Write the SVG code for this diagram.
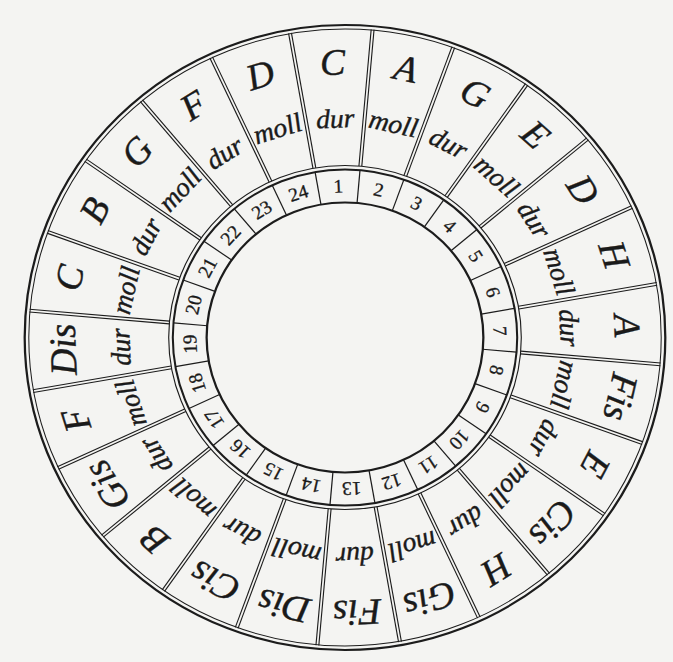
<svg xmlns="http://www.w3.org/2000/svg" xmlns:xlink="http://www.w3.org/1999/xlink" width="673" height="662" viewBox="0 0 673 662">
<style>
.ln{stroke:#1c1c1c;fill:none}
.key{font-family:"Liberation Serif","DejaVu Serif",serif;font-style:italic;font-size:37px;text-anchor:middle;fill:#1a1a1a;stroke:#1a1a1a;stroke-width:0.4}
.word{font-family:"Liberation Serif","DejaVu Serif",serif;font-style:italic;font-size:27px;text-anchor:middle;fill:#1a1a1a;stroke:#1a1a1a;stroke-width:0.4}
.num{font-family:"Liberation Serif","DejaVu Serif",serif;font-size:19px;text-anchor:middle;fill:#1a1a1a;stroke:#1a1a1a;stroke-width:0.3}
</style>
<defs>
<g id="div">
<line class="ln" stroke-width="1.1" x1="-1.4" y1="-172" x2="-1.4" y2="-309"/>
<line class="ln" stroke-width="1.1" x1="1.4" y1="-172" x2="1.4" y2="-309"/>
<line class="ln" stroke-width="1.2" x1="0" y1="-135" x2="0" y2="-168"/>
</g>
</defs>
<rect width="673" height="662" fill="#f4f4f2"/>
<g transform="translate(345,337.5) scale(1.025,1)">
<g id="rings">
<circle class="ln" stroke-width="2.2" r="312.5"/>
<circle class="ln" stroke-width="1" r="308.5"/>
<circle class="ln" stroke-width="1.1" r="172"/>
<circle class="ln" stroke-width="2" r="168"/>
<circle class="ln" stroke-width="2.2" r="135"/>
</g>
<g id="connectors">
<use xlink:href="#div" transform="rotate(-10)"/>
<use xlink:href="#div" transform="rotate(5)"/>
<use xlink:href="#div" transform="rotate(20)"/>
<use xlink:href="#div" transform="rotate(35)"/>
<use xlink:href="#div" transform="rotate(50)"/>
<use xlink:href="#div" transform="rotate(65)"/>
<use xlink:href="#div" transform="rotate(80)"/>
<use xlink:href="#div" transform="rotate(95)"/>
<use xlink:href="#div" transform="rotate(110)"/>
<use xlink:href="#div" transform="rotate(125)"/>
<use xlink:href="#div" transform="rotate(140)"/>
<use xlink:href="#div" transform="rotate(155)"/>
<use xlink:href="#div" transform="rotate(170)"/>
<use xlink:href="#div" transform="rotate(185)"/>
<use xlink:href="#div" transform="rotate(200)"/>
<use xlink:href="#div" transform="rotate(215)"/>
<use xlink:href="#div" transform="rotate(230)"/>
<use xlink:href="#div" transform="rotate(245)"/>
<use xlink:href="#div" transform="rotate(260)"/>
<use xlink:href="#div" transform="rotate(275)"/>
<use xlink:href="#div" transform="rotate(290)"/>
<use xlink:href="#div" transform="rotate(305)"/>
<use xlink:href="#div" transform="rotate(320)"/>
<use xlink:href="#div" transform="rotate(335)"/>
</g>
<g id="s1" transform="rotate(-2.5)"><text class="key" y="-263">C</text><text class="word" y="-210">dur</text><text class="num" y="-145">1</text></g>
<g id="s2" transform="rotate(12.5)"><text class="key" y="-263">A</text><text class="word" y="-210">moll</text><text class="num" y="-145">2</text></g>
<g id="s3" transform="rotate(27.5)"><text class="key" y="-263">G</text><text class="word" y="-210">dur</text><text class="num" y="-145">3</text></g>
<g id="s4" transform="rotate(42.5)"><text class="key" y="-263">E</text><text class="word" y="-210">moll</text><text class="num" y="-145">4</text></g>
<g id="s5" transform="rotate(57.5)"><text class="key" y="-263">D</text><text class="word" y="-210">dur</text><text class="num" y="-145">5</text></g>
<g id="s6" transform="rotate(72.5)"><text class="key" y="-263">H</text><text class="word" y="-210">moll</text><text class="num" y="-145">6</text></g>
<g id="s7" transform="rotate(87.5)"><text class="key" y="-263">A</text><text class="word" y="-210">dur</text><text class="num" y="-145">7</text></g>
<g id="s8" transform="rotate(102.5)"><text class="key" y="-263">Fis</text><text class="word" y="-210">moll</text><text class="num" y="-145">8</text></g>
<g id="s9" transform="rotate(117.5)"><text class="key" y="-263">E</text><text class="word" y="-210">dur</text><text class="num" y="-145">9</text></g>
<g id="s10" transform="rotate(132.5)"><text class="key" y="-263">Cis</text><text class="word" y="-210">moll</text><text class="num" y="-145">10</text></g>
<g id="s11" transform="rotate(147.5)"><text class="key" y="-263">H</text><text class="word" y="-210">dur</text><text class="num" y="-145">11</text></g>
<g id="s12" transform="rotate(162.5)"><text class="key" y="-263">Gis</text><text class="word" y="-210">moll</text><text class="num" y="-145">12</text></g>
<g id="s13" transform="rotate(177.5)"><text class="key" y="-263">Fis</text><text class="word" y="-210">dur</text><text class="num" y="-145">13</text></g>
<g id="s14" transform="rotate(192.5)"><text class="key" y="-263">Dis</text><text class="word" y="-210">moll</text><text class="num" y="-145">14</text></g>
<g id="s15" transform="rotate(207.5)"><text class="key" y="-263">Cis</text><text class="word" y="-210">dur</text><text class="num" y="-145">15</text></g>
<g id="s16" transform="rotate(222.5)"><text class="key" y="-263">B</text><text class="word" y="-210">moll</text><text class="num" y="-145">16</text></g>
<g id="s17" transform="rotate(237.5)"><text class="key" y="-263">Gis</text><text class="word" y="-210">dur</text><text class="num" y="-145">17</text></g>
<g id="s18" transform="rotate(252.5)"><text class="key" y="-263">F</text><text class="word" y="-210">moll</text><text class="num" y="-145">18</text></g>
<g id="s19" transform="rotate(267.5)"><text class="key" y="-263">Dis</text><text class="word" y="-210">dur</text><text class="num" y="-145">19</text></g>
<g id="s20" transform="rotate(282.5)"><text class="key" y="-263">C</text><text class="word" y="-210">moll</text><text class="num" y="-145">20</text></g>
<g id="s21" transform="rotate(297.5)"><text class="key" y="-263">B</text><text class="word" y="-210">dur</text><text class="num" y="-145">21</text></g>
<g id="s22" transform="rotate(312.5)"><text class="key" y="-263">G</text><text class="word" y="-210">moll</text><text class="num" y="-145">22</text></g>
<g id="s23" transform="rotate(327.5)"><text class="key" y="-263">F</text><text class="word" y="-210">dur</text><text class="num" y="-145">23</text></g>
<g id="s24" transform="rotate(342.5)"><text class="key" y="-263">D</text><text class="word" y="-210">moll</text><text class="num" y="-145">24</text></g>
</g>
</svg>
